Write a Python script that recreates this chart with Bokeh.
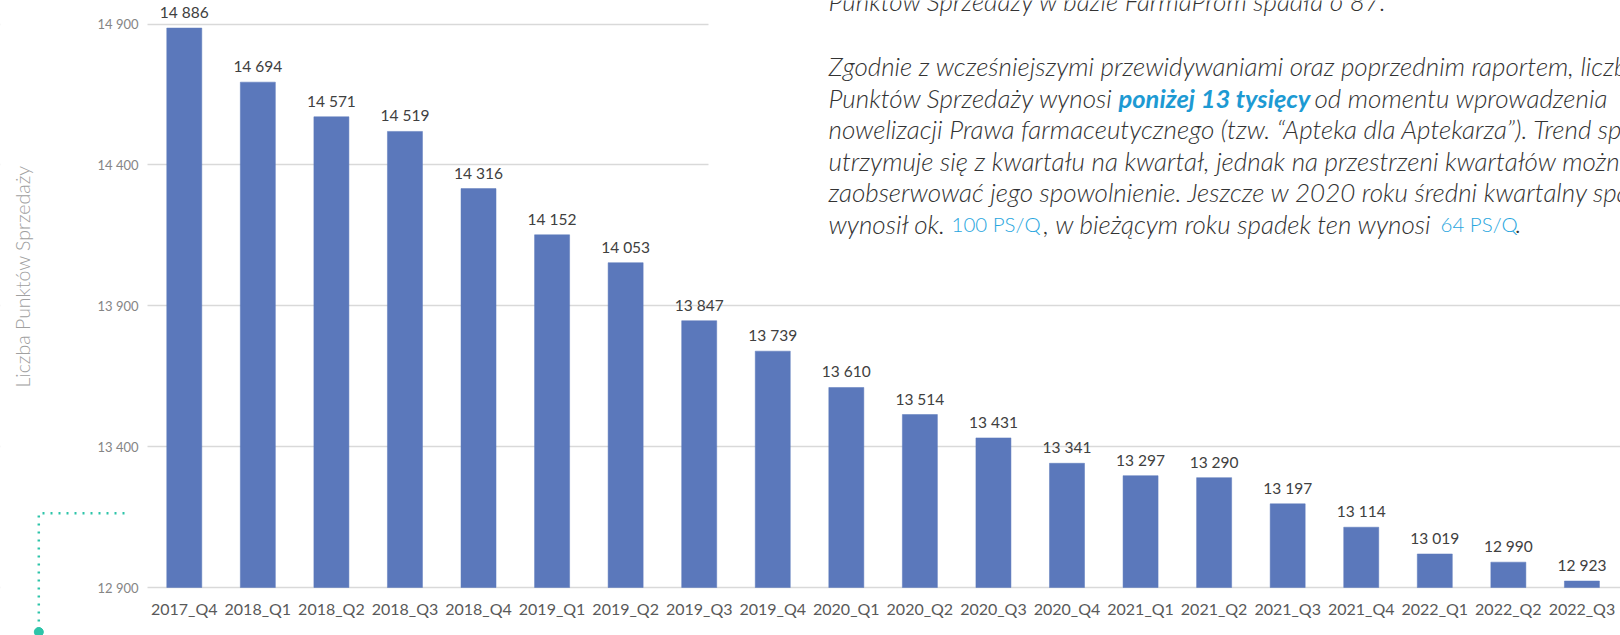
import math
from bokeh.plotting import figure
from bokeh.models import Range1d, FixedTicker, Label, BoxAnnotation
from bokeh.core.properties import value
from bokeh.embed import file_html
from bokeh.resources import INLINE

# ---------------- data ----------------
categories = ["2017_Q4", "2018_Q1", "2018_Q2", "2018_Q3", "2018_Q4",
              "2019_Q1", "2019_Q2", "2019_Q3", "2019_Q4", "2020_Q1",
              "2020_Q2", "2020_Q3", "2020_Q4", "2021_Q1", "2021_Q2",
              "2021_Q3", "2021_Q4", "2022_Q1", "2022_Q2", "2022_Q3"]
points_of_sale = [14886, 14694, 14571, 14519, 14316,
                  14152, 14053, 13847, 13739, 13610,
                  13514, 13431, 13341, 13297, 13290,
                  13197, 13114, 13019, 12990, 12923]
y_ticks = [12900, 13400, 13900, 14400, 14900]
y_title = "Liczba Punktów Sprzedaży"

para_line0 = "Punktów Sprzedaży w bazie FarmaProm spadła o 87."
para_line1 = "Zgodnie z wcześniejszymi przewidywaniami oraz poprzednim raportem, liczba"
para_line2 = ["Punktów Sprzedaży wynosi ", "poniżej 13 tysięcy", " od momentu wprowadzenia"]
para_line3 = "nowelizacji Prawa farmaceutycznego (tzw. “Apteka dla Aptekarza”). Trend spadkowy"
para_line4 = "utrzymuje się z kwartału na kwartał, jednak na przestrzeni kwartałów można"
para_line5 = "zaobserwować jego spowolnienie. Jeszcze w 2020 roku średni kwartalny spadek"
para_line6 = ["wynosił ok. ", "100 PS/Q", ", w bieżącym roku spadek ten wynosi ", "64 PS/Q", "."]


def fmt(v):
    return f"{v:,}".replace(",", " ")


# ---------------- layout (pixels) ----------------
W, H = 1620, 635
BASE_PX = 587               # y pixel of the 12 900 baseline
CAT_LEFT = 147              # x pixel where the first category starts
PX_PER_CAT = 73.56
PX_PER_UNIT = 0.2817        # vertical pixels per point-of-sale

Y_BASE = y_ticks[0]
Y_MIN = Y_BASE - (H - BASE_PX) / PX_PER_UNIT
Y_MAX = Y_BASE + BASE_PX / PX_PER_UNIT
X_START = -CAT_LEFT / PX_PER_CAT
X_END = (W - CAT_LEFT) / PX_PER_CAT


def dx(px):
    return (px - CAT_LEFT) / PX_PER_CAT


def dy(py):
    return Y_BASE + (BASE_PX - py) / PX_PER_UNIT


p = figure(width=W, height=H, output_backend="svg", toolbar_location=None,
           x_range=Range1d(X_START, X_END), y_range=Range1d(Y_MIN, Y_MAX))
p.min_border_left = 0
p.min_border_right = 0
p.min_border_top = 0
p.min_border_bottom = 0
p.outline_line_color = None
p.background_fill_color = "white"
p.border_fill_color = "white"

xs = [i + 0.5 for i in range(len(categories))]

# grid
p.xgrid.grid_line_color = None
p.ygrid.ticker = FixedTicker(ticks=y_ticks)
p.ygrid.grid_line_color = "#d9d9d9"
p.ygrid.grid_line_width = 1.5

# axes (labels pulled into the drawing area with negative standoffs)
p.yaxis.ticker = FixedTicker(ticks=y_ticks)
p.yaxis.major_label_overrides = {t: fmt(t) for t in y_ticks}
p.yaxis.axis_line_color = None
p.yaxis.major_tick_line_color = None
p.yaxis.minor_tick_line_color = None
p.yaxis.major_tick_out = 0
p.yaxis.major_tick_in = 0
p.yaxis.major_label_standoff = -138
p.yaxis.major_label_text_font = "Lato"
p.yaxis.major_label_text_font_size = "13px"
p.yaxis.major_label_text_color = "#858585"

p.xaxis.ticker = FixedTicker(ticks=xs)
p.xaxis.major_label_overrides = {x: c for x, c in zip(xs, categories)}
p.xaxis.axis_line_color = None
p.xaxis.major_tick_line_color = None
p.xaxis.minor_tick_line_color = None
p.xaxis.major_tick_out = 0
p.xaxis.major_tick_in = 0
p.xaxis.major_label_standoff = -(H - 598)
p.xaxis.major_label_text_font = "Lato"
p.xaxis.major_label_text_font_size = "16px"
p.xaxis.major_label_text_color = "#595959"

# white panels: left margin (grid starts at the first category) and commentary area
p.add_layout(BoxAnnotation(right=0, fill_color="white", fill_alpha=1.0,
                           line_color=None, level="underlay"))
p.add_layout(BoxAnnotation(left=dx(708), bottom=dy(270), fill_color="white",
                           fill_alpha=1.0, line_color=None, level="underlay"))

# bars
p.vbar(x=xs, top=points_of_sale, bottom=Y_BASE, width=0.476,
       fill_color="#5b78bb", line_color="#5b78bb", line_width=0.5)

# data labels
p.text(x=xs, y=points_of_sale, text=[fmt(v) for v in points_of_sale],
       text_align="center", text_baseline="alphabetic", y_offset=-16,
       text_font=value("Lato"), text_font_size="15.5px", text_color="#404040")

# y-axis title
p.text(x=[dx(21.5)], y=[dy(276)], text=[y_title], angle=math.pi / 2,
       text_align="center", text_baseline="middle",
       text_font=value("Lato Light"), text_font_size="19.5px", text_color="#a0a0a0")

# decorative teal dotted bracket
TEAL = "#2ec4a9"
p.line(x=[dx(124), dx(38.3), dx(38.3)], y=[dy(512.7), dy(512.7), dy(630)],
       line_color=TEAL, line_width=2.5, line_dash="2 6")
p.scatter(x=[dx(38.3)], y=[dy(631.5)], marker="circle", size=9,
          fill_color=TEAL, line_color=TEAL)

# commentary text
TXT = dict(text_font="Lato Light", text_font_style="italic",
           text_font_size="26px", text_color="#333333",
           text_baseline="alphabetic", text_align="left")
BLUE = "#29a6de"


def put(px, py, txt, **kw):
    opts = dict(TXT)
    opts.update(kw)
    p.add_layout(Label(x=dx(px), y=dy(py), text=txt, **opts))


X0 = 828
put(X0, 0.5, para_line0)
put(X0, 65.5, para_line1)
put(X0, 97, para_line2[0])
put(1118, 97, para_line2[1], text_font="Lato", text_font_style="bold italic",
    text_font_size="25.5px", text_color="#1d9ad3")
put(1314, 97, para_line2[2].lstrip())
put(X0, 128.5, para_line3)
put(X0, 160, para_line4)
put(X0, 191.5, para_line5)
put(X0, 223, para_line6[0])
put(951, 223, para_line6[1], text_color=BLUE, text_font_style="normal",
    text_font_size="20.5px")
put(1043, 223, para_line6[2])
put(1440, 223, para_line6[3], text_color=BLUE, text_font_style="normal",
    text_font_size="20.5px")
put(1515, 223, para_line6[4])

open("out.html", "w").write(file_html(p, INLINE))
